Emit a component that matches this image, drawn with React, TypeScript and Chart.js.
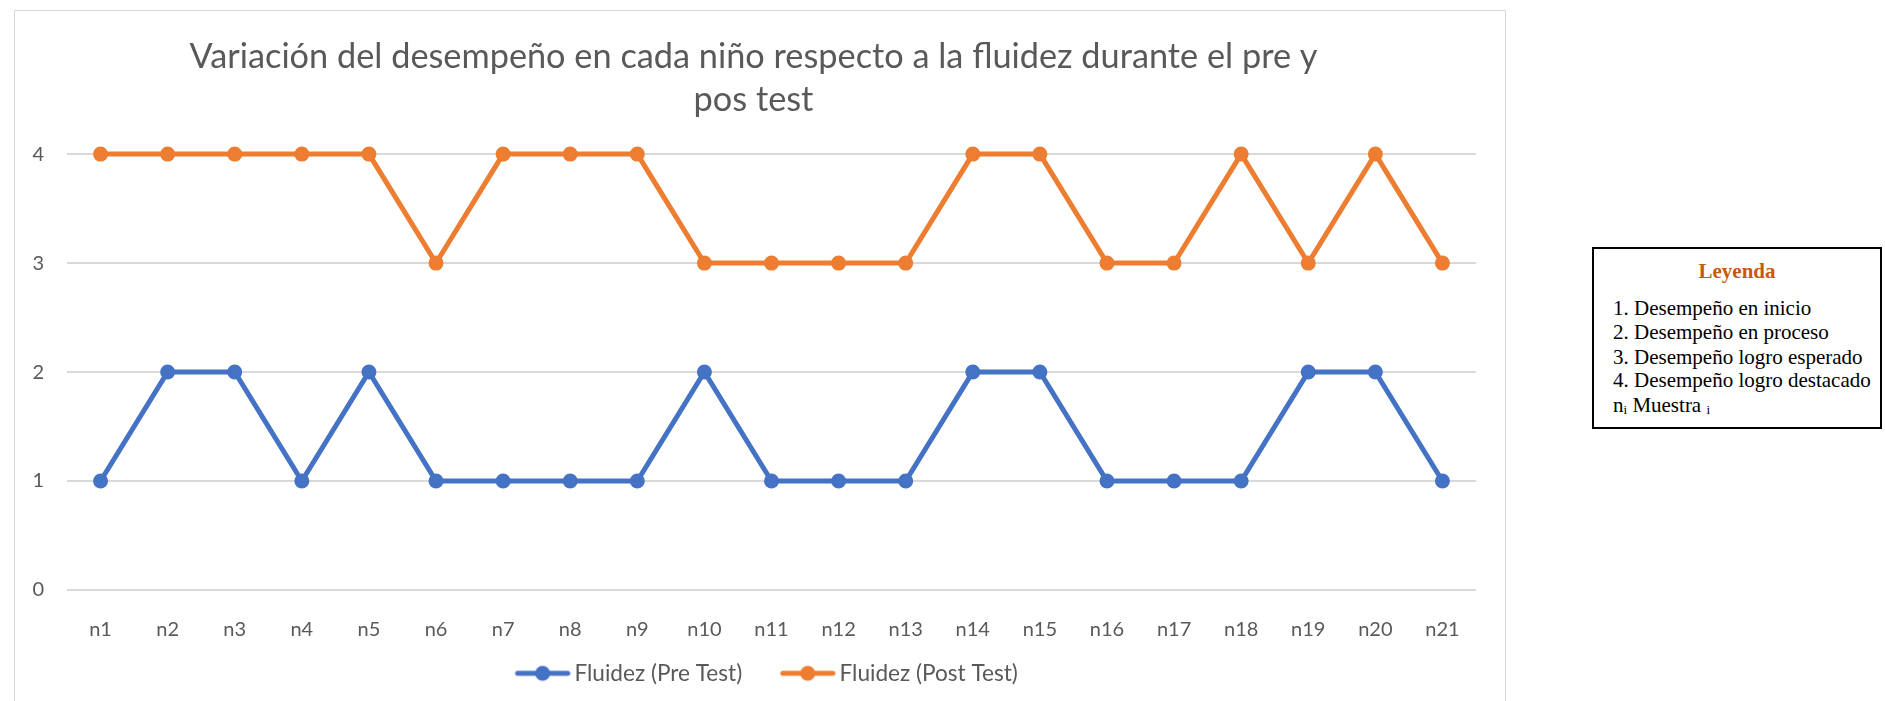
import React, { useEffect, useRef } from "react";
import { Chart, registerables } from "chart.js";

Chart.register(...registerables);

const categories = ["n1","n2","n3","n4","n5","n6","n7","n8","n9","n10","n11","n12","n13","n14","n15","n16","n17","n18","n19","n20","n21"];
const preTest = [1,2,2,1,2,1,1,1,1,2,1,1,1,2,2,1,1,1,2,2,1];
const postTest = [4,4,4,4,4,3,4,4,4,3,3,3,3,4,4,3,3,4,3,4,3];
const seriesNames = ["Fluidez (Pre Test)", "Fluidez (Post Test)"];
const titleLines = ["Variación del desempeño en cada niño respecto a la fluidez durante el pre y", "pos test"];
const legendTitle = "Leyenda";
const legendLines = ["1. Desempeño en inicio", "2. Desempeño en proceso", "3. Desempeño logro esperado", "4. Desempeño logro destacado"];

const BLUE = "#4472C4";
const ORANGE = "#ED7D31";
const TEXT = "#595959";
const GRID = "#D9D9D9";
const FONT = "Lato";

function makeLegendIcon(color: string): HTMLCanvasElement {
  const c = document.createElement("canvas");
  c.width = 75;
  c.height = 18;
  const ctx = c.getContext("2d")!;
  ctx.strokeStyle = color;
  ctx.lineWidth = 5;
  ctx.lineCap = "round";
  ctx.beginPath();
  ctx.moveTo(22, 9);
  ctx.lineTo(72, 9);
  ctx.stroke();
  ctx.fillStyle = color;
  ctx.beginPath();
  ctx.arc(47, 9, 7.5, 0, Math.PI * 2);
  ctx.fill();
  return c;
}

const shiftPlugin = {
  id: "shiftBlocks",
  afterLayout(chart: any) {
    if (chart.legend) {
      chart.legend.left += 15;
      chart.legend.right += 15;
    }
    if (chart.titleBlock) {
      chart.titleBlock.left += 8;
      chart.titleBlock.right += 8;
    }
  },
};

export default function App() {
  const ref = useRef<HTMLCanvasElement | null>(null);
  useEffect(() => {
    if (!ref.current) return;
    const icons = [makeLegendIcon(BLUE), makeLegendIcon(ORANGE)];
    const mk = (label: string, data: number[], color: string) => ({
      label,
      data,
      borderColor: color,
      backgroundColor: color,
      pointBackgroundColor: color,
      pointBorderWidth: 0,
      pointRadius: 7.5,
      borderWidth: 5,
      tension: 0,
      clip: false as any,
    });
    const chart = new Chart(ref.current, {
      type: "line",
      data: {
        labels: categories,
        datasets: [mk(seriesNames[0], preTest, BLUE), mk(seriesNames[1], postTest, ORANGE)],
      },
      plugins: [shiftPlugin],
      options: {
        animation: false,
        responsive: false,
        devicePixelRatio: 1,
        layout: { padding: { left: 0, right: 29, top: 0, bottom: 6.4 } },
        plugins: {
          tooltip: { enabled: false },
          title: {
            display: true,
            text: titleLines,
            color: TEXT,
            font: { family: FONT, size: 34.3, weight: "normal" as any, lineHeight: 1.27 },
            padding: { top: 24, bottom: 32 },
          },
          legend: {
            position: "bottom",
            labels: {
              color: TEXT,
              font: { family: FONT, size: 22.6 },
              usePointStyle: true,
              pointStyleWidth: 60,
              padding: 26,
              generateLabels: (ch: any) =>
                Chart.defaults.plugins.legend.labels.generateLabels(ch).map((l: any, i: number) => ({ ...l, pointStyle: icons[i] })),
            },
          },
        },
        scales: {
          x: {
            offset: true,
            grid: { display: false },
            border: { display: false },
            ticks: { color: TEXT, font: { family: FONT, size: 20 }, padding: 20, maxRotation: 0, autoSkip: false },
            afterFit: (s: any) => { s.height = 46; },
          },
          y: {
            min: 0,
            max: 4,
            grid: { color: GRID, lineWidth: 2, drawTicks: false },
            border: { display: false },
            ticks: { stepSize: 1, color: TEXT, font: { family: FONT, size: 20 }, padding: 23 },
            afterFit: (s: any) => { s.width = 52; },
          },
        },
      },
    });
    return () => chart.destroy();
  }, []);

  const lineStyle = (top: number): React.CSSProperties => ({
    position: "absolute",
    left: 19,
    top,
    height: 24,
    lineHeight: "24px",
    fontFamily: "'Liberation Serif', serif",
    fontSize: 21,
    color: "#000",
    whiteSpace: "nowrap",
  });

  return (
    <div style={{ position: "fixed", left: 0, top: 0, width: 1885, height: 701, background: "#fff", overflow: "hidden" }}>
      <div style={{ position: "absolute", left: 14, top: 10, width: 1492, height: 720, border: `1px solid ${GRID}`, boxSizing: "border-box" }} />
      <div style={{ position: "absolute", left: 15, top: 11, width: 1490, height: 690 }}>
        <canvas ref={ref} width={1490} height={690} style={{ display: "block", width: 1490, height: 690 }} />
      </div>
      <div style={{ position: "absolute", left: 1592, top: 247, width: 290, height: 182, border: "2px solid #000", boxSizing: "border-box", background: "#fff" }}>
        <div style={{ position: "absolute", left: 0, right: 0, top: 10, textAlign: "center", lineHeight: "24px", fontFamily: "'Liberation Serif', serif", fontWeight: "bold", fontSize: 21, color: "#C55A11" }}>{legendTitle}</div>
        {legendLines.map((t, i) => (
          <div key={i} style={lineStyle([47, 71, 96, 119][i])}>{t}</div>
        ))}
        <div style={lineStyle(144)}>
          n<sub style={{ fontSize: 13, verticalAlign: "-2px" }}>i</sub> Muestra <sub style={{ fontSize: 13, verticalAlign: "-2px" }}>i</sub>
        </div>
      </div>
    </div>
  );
}
